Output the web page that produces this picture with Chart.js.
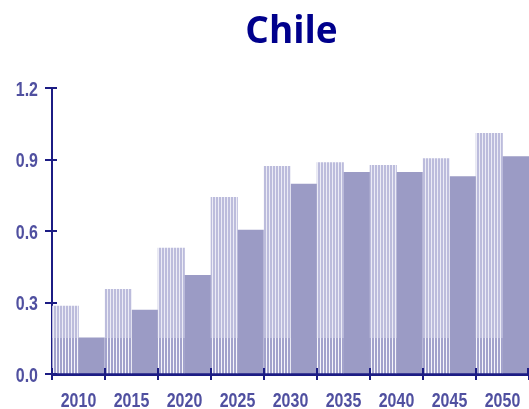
<!DOCTYPE html>
<html>
<head>
<meta charset="utf-8">
<script src="https://cdn.jsdelivr.net/npm/chart.js@4.4.1/dist/chart.umd.min.js"></script>
<style>
  html, body { margin: 0; padding: 0; background: #ffffff; }
  #wrap { width: 529px; height: 409px; }
</style>
</head>
<body>
<div id="wrap"><canvas id="c" width="529" height="409"></canvas></div>
<script>
// Chile — paired bars per year
const chartTitle = 'Chile';
const years = ['2010', '2015', '2020', '2025', '2030', '2035', '2040', '2045', '2050'];
const seriesA = [0.285, 0.355, 0.528, 0.741, 0.871, 0.887, 0.876, 0.904, 1.010];
const seriesB = [0.152, 0.268, 0.414, 0.604, 0.797, 0.846, 0.846, 0.828, 0.912];
const yTicks = [0.0, 0.3, 0.6, 0.9, 1.2];
const stripeSplit = 0.15;

const axisColor = '#1c1c84';
const labelColor = '#5050a0';
const solidColor = '#9b9bc5';
const labelFont = 'bold 21px "Liberation Sans", Arial, sans-serif';
const labelSqueeze = 0.76;

// Vertical stripe fill: lighter above the split value, stronger below it
let stripeCache = null;
function stripeFill(ctx) {
  const chart = ctx.chart;
  const y = chart.scales && chart.scales.y;
  if (!y || !chart.chartArea) return '#c4c4e0';
  const split = Math.round(y.getPixelForValue(stripeSplit));
  const key = split + ':' + chart.height;
  if (stripeCache && stripeCache.key === key) return stripeCache.pattern;
  const pc = document.createElement('canvas');
  pc.width = 3;
  pc.height = chart.height;
  const g = pc.getContext('2d');
  g.fillStyle = '#bcbcdc';
  g.fillRect(0, 0, 2, split);
  g.fillStyle = '#ececf6';
  g.fillRect(2, 0, 1, split);
  g.fillStyle = '#a2a2cc';
  g.fillRect(0, split, 2, pc.height - split);
  g.fillStyle = '#f6f6fb';
  g.fillRect(2, split, 1, pc.height - split);
  const pattern = chart.ctx.createPattern(pc, 'repeat');
  stripeCache = { key, pattern };
  return pattern;
}

// Narrow tick labels, placed from the scales' own tick positions
function drawNarrow(ctx, text, x, y, align) {
  ctx.save();
  ctx.translate(x, y);
  ctx.scale(labelSqueeze, 1);
  ctx.textAlign = align;
  ctx.fillText(text, 0, 0);
  ctx.restore();
}
const tickLabels = {
  id: 'tickLabels',
  afterDraw(chart) {
    const { ctx, scales, chartArea } = chart;
    ctx.save();
    ctx.font = labelFont;
    ctx.fillStyle = labelColor;
    ctx.textBaseline = 'alphabetic';
    scales.x.ticks.forEach((t, i) => {
      drawNarrow(ctx, years[i], scales.x.getPixelForTick(i), chartArea.bottom + 33, 'center');
    });
    scales.y.ticks.forEach(t => {
      const py = scales.y.getPixelForValue(t.value);
      drawNarrow(ctx, Number(t.value).toFixed(1), chartArea.left - 14, py + 7.5, 'right');
    });
    ctx.restore();
  }
};

// Title centred over the plot area
const titlePlugin = {
  id: 'plotTitle',
  afterDraw(chart) {
    const { ctx, chartArea } = chart;
    ctx.save();
    ctx.font = 'bold 37px "Open Sans", "DejaVu Sans", sans-serif';
    ctx.fillStyle = '#00008c';
    ctx.textAlign = 'center';
    ctx.textBaseline = 'alphabetic';
    ctx.fillText(chartTitle, (chartArea.left + chartArea.right) / 2 + 1, 43);
    ctx.restore();
  }
};

// Tick marks that cross the axis lines on the inner side
const innerTicks = {
  id: 'innerTicks',
  afterDatasetsDraw(chart) {
    const { ctx, chartArea, scales } = chart;
    ctx.save();
    ctx.strokeStyle = axisColor;
    ctx.lineWidth = 2;
    ctx.beginPath();
    yTicks.forEach(v => {
      const py = Math.round(scales.y.getPixelForValue(v));
      ctx.moveTo(chartArea.left, py);
      ctx.lineTo(chartArea.left + 5, py);
    });
    const n = years.length;
    for (let i = 0; i <= n; i++) {
      let px;
      if (i === 0) px = chartArea.left;
      else if (i === n) px = chartArea.right - 1;
      else px = (scales.x.getPixelForValue(i - 1) + scales.x.getPixelForValue(i)) / 2;
      px = Math.round(px);
      ctx.moveTo(px, chartArea.bottom);
      ctx.lineTo(px, chartArea.bottom - 6);
    }
    ctx.stroke();
    ctx.restore();
  }
};

new Chart(document.getElementById('c'), {
  type: 'bar',
  data: {
    labels: years,
    datasets: [
      { data: seriesA, backgroundColor: stripeFill, borderWidth: 0, categoryPercentage: 1.0, barPercentage: 1.0 },
      { data: seriesB, backgroundColor: solidColor, borderWidth: 0, categoryPercentage: 1.0, barPercentage: 1.0 }
    ]
  },
  options: {
    responsive: false,
    animation: false,
    devicePixelRatio: 1,
    layout: { padding: { top: 88, right: 0, left: 0, bottom: 0 } },
    plugins: { legend: { display: false }, tooltip: { enabled: false }, title: { display: false } },
    scales: {
      x: {
        grid: { offset: true, drawOnChartArea: false, drawTicks: true, tickLength: 6, color: axisColor, lineWidth: 2 },
        border: { display: true, color: axisColor, width: 3 },
        ticks: { display: false, autoSkip: false },
        afterFit(scale) { scale.height = 35; }
      },
      y: {
        min: 0,
        max: 1.2,
        afterBuildTicks(scale) { scale.ticks = yTicks.map(v => ({ value: v })); },
        grid: { drawOnChartArea: false, drawTicks: true, tickLength: 7, color: axisColor, lineWidth: 2 },
        border: { display: true, color: axisColor, width: 2 },
        ticks: { display: false },
        afterFit(scale) { scale.width = 52; }
      }
    }
  },
  plugins: [titlePlugin, innerTicks, tickLabels]
});
</script>
</body>
</html>
